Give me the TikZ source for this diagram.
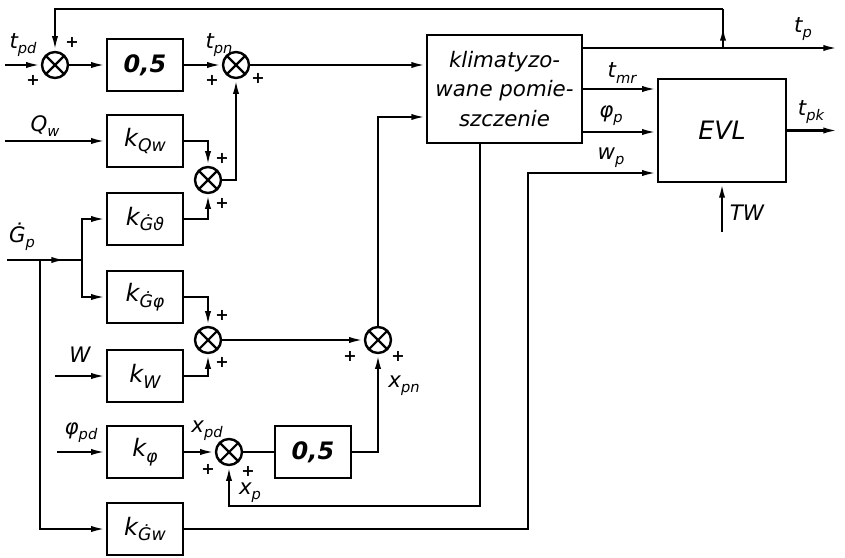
\documentclass[tikz,border=0pt]{standalone}
\usepackage{fontspec}
\setmainfont{DejaVu Sans}
\usetikzlibrary{arrows.meta}
\newcommand\lsb[2]{#1\raisebox{-0.45ex}{\fontsize{11}{12}\selectfont #2}}
\newcommand\bsb[2]{#1\raisebox{-0.45ex}{\fontsize{13}{14}\selectfont #2}}
\begin{document}
\begin{tikzpicture}[x=0.75pt,y=-0.75pt,
 line width=1.7pt,
 >={Latex[length=11pt,width=4.6pt]},
 blk/.style={draw,line width=1.8pt,minimum width=57pt,minimum height=39pt,inner sep=0pt,font=\fontsize{18}{20}\selectfont\itshape},
 numblk/.style={blk,font=\fontsize{18}{20}\selectfont\bfseries\itshape},
 bigblk/.style={draw,line width=1.8pt,inner sep=0pt,align=center,font=\fontsize{16}{22}\selectfont\itshape},
 sumj/.style={draw,circle,line width=1.8pt,minimum size=19.5pt,inner sep=0pt,
   path picture={\draw[line width=1.6pt] (path picture bounding box.north west)--(path picture bounding box.south east)
     (path picture bounding box.north east)--(path picture bounding box.south west);}},
 lbl/.style={font=\fontsize{16}{18}\selectfont\itshape,inner sep=1pt},
 pl/.style={font=\fontsize{12}{12}\selectfont\bfseries,inner sep=0pt}]
\useasboundingbox (0,0) rectangle (845,557);
% blocks and junctions
\node[sumj] (s1) at (55,65) {};
\node[numblk] (b1) at (145,65) {0,5};
\node[sumj] (s2) at (236,65) {};
\node[blk] (kq) at (145,141) {\bsb{k}{Qw}};
\node[sumj] (s3) at (208,180) {};
\node[blk] (kg1) at (145,219) {\bsb{k}{Ġϑ}};
\node[blk] (kg2) at (145,297) {\bsb{k}{Ġφ}};
\node[sumj] (s4) at (208,340) {};
\node[blk] (kw) at (145,376) {\bsb{k}{W}};
\node[sumj] (s5) at (378,340) {};
\node[blk] (kf) at (145,452) {\bsb{k}{φ}};
\node[sumj] (s6) at (229,452) {};
\node[numblk] (b2) at (313,452) {0,5};
\node[blk] (kgw) at (145,529) {\bsb{k}{Ġw}};
\node[bigblk,minimum width=116pt,minimum height=81pt] (kl) at (504.5,89) {klimatyzo-\\wane pomie-\\szczenie};
\node[bigblk,minimum width=96pt,minimum height=77pt,font=\fontsize{19}{22}\selectfont\itshape] (evl) at (722,130.5) {EVL};
% coordinates
\coordinate (tpd) at (5,65);
\coordinate (qin) at (5,141);
\coordinate (gin) at (7,260);
\coordinate (gmid) at (66,260);
\coordinate (gbr) at (82,260);
\coordinate (gdn) at (40,260);
\coordinate (win) at (55,376);
\coordinate (fin) at (57,452);
\coordinate (tpb) at (723,48);
\coordinate (tpm) at (723,26);
\coordinate (fbk) at (723,9);
\coordinate (tpo) at (838,48);
\coordinate (r2y) at (0,117);
\coordinate (xpb) at (480,506);
\coordinate (wpt) at (528,173);
\coordinate (tmry) at (0,89);
\coordinate (fpy) at (0,132);
\coordinate (tpk) at (838,130.5);
\coordinate (tw) at (722,232);
% connectors
\draw[->] (tpd) -- (s1.west);
\draw[->] (s1) -- (b1);
\draw[->] (b1) -- (s2);
\draw[->] (s2.east) -- (s2.east -| kl.west);
\draw (tpb) -- (fbk);
\draw[->] (tpb) -- (tpm);
\draw[->] (fbk) -| (s1.north);
\draw[->] (qin) -- (kq);
\draw[->] (kq.east) -| (s3.north);
\draw[->] (s3.east) -| (s2.south);
\draw[->] (kg1.east) -| (s3.south);
\draw (gin) -- (gbr);
\draw[->] (gin) -- (gmid);
\draw[->] (gbr) |- (kg1.west);
\draw[->] (gbr) |- (kg2.west);
\draw[->] (gdn) |- (kgw.west);
\draw[->] (kg2.east) -| (s4.north);
\draw[->] (win) -- (kw);
\draw[->] (kw.east) -| (s4.south);
\draw[->] (s4) -- (s5);
\draw[->] (s5.north) |- (kl.west |- r2y);
\draw[->] (fin) -- (kf);
\draw[->] (kf) -- (s6);
\draw (s6) -- (b2);
\draw[->] (b2.east) -| (s5.south);
\draw[->] (xpb |- kl.south) -- (xpb) -| (s6.south);
\draw[->] (kgw.east) -| (wpt) -- (wpt -| evl.west);
\draw[->] (kl.east |- tpb) -- (tpo);
\draw[->] (kl.east |- tmry) -- (evl.west |- tmry);
\draw[->] (kl.east |- fpy) -- (evl.west |- fpy);
\draw[->] (evl.east) -- (tpk);
\draw[->] (tw) -- (evl.south);
% labels
\node[lbl] (l1) at (23,45) {\lsb{t}{pd}};
\node[pl] (p1) at (72,42) {+};
\node[pl] (p2) at (33,80) {+};
\node[lbl] (l2) at (219,45) {\lsb{t}{pn}};
\node[pl] (p3) at (212,80) {+};
\node[pl] (p4) at (258,78) {+};
\node[lbl] (l3) at (45,126) {\lsb{Q}{w}};
\node[pl] (p5) at (222,158) {+};
\node[pl] (p6) at (222,203) {+};
\node[lbl] (l4) at (22,237) {\lsb{Ġ}{p}};
\node[pl] (p7) at (222,315) {+};
\node[pl] (p8) at (222,362) {+};
\node[lbl] (l5) at (80,355) {W};
\node[pl] (p9) at (350,356) {+};
\node[pl] (p10) at (398,356) {+};
\node[lbl] (l6) at (404,386) {\lsb{x}{pn}};
\node[lbl] (l7) at (81,433) {\lsb{φ}{pd}};
\node[lbl] (l8) at (207,431) {\lsb{x}{pd}};
\node[pl] (p11) at (208,469) {+};
\node[pl] (p12) at (248,471) {+};
\node[lbl] (l9) at (250,493) {\lsb{x}{p}};
\node[lbl] (l10) at (803,29) {\lsb{t}{p}};
\node[lbl] (l11) at (622,73) {\lsb{t}{mr}};
\node[lbl] (l12) at (611,116) {\lsb{φ}{p}};
\node[lbl] (l13) at (611,158) {\lsb{w}{p}};
\node[lbl] (l14) at (811,112) {\lsb{t}{pk}};
\node[lbl] (l15) at (747,213) {TW};
\end{tikzpicture}
\end{document}
